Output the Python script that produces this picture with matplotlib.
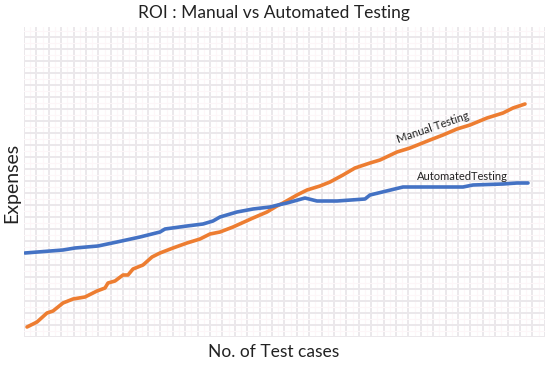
import matplotlib
matplotlib.use("Agg")
from matplotlib import pyplot as plt
from matplotlib.ticker import MultipleLocator

plt.rcParams['font.family'] = ['Lato', 'DejaVu Sans']

# automated testing expenses
auto_x = [1, 39, 51, 74, 93, 116, 136, 141, 163, 179, 189, 196, 213, 229, 246, 254,
          263, 281, 293, 313, 341, 346, 379, 413, 439, 449, 479, 493, 504]
auto_y = [84, 87, 89, 91, 95, 100, 105, 108, 111, 113, 116, 120, 125, 128, 130, 132,
          134, 139, 136, 136, 138, 142, 150, 150, 150, 152, 153, 154, 154]

# manual testing expenses
man_x = [3, 13, 23, 29, 39, 49, 61, 73, 81, 84, 91, 99, 104, 109, 119, 128, 136, 149,
         163, 176, 186, 196, 209, 229, 243, 253, 259, 273, 283, 296, 306, 319, 331,
         346, 356, 373, 386, 406, 419, 433, 446, 463, 479, 489, 501]
man_y = [10, 15, 24, 26, 34, 38, 40, 46, 49, 54, 56, 62, 62, 68, 72, 80, 84, 89, 94,
         98, 103, 105, 110, 119, 125, 131, 134, 142, 147, 151, 155, 162, 169, 174,
         177, 185, 189, 197, 202, 208, 212, 219, 224, 229, 233]

fig = plt.figure(figsize=(5.47, 3.66), dpi=100)
ax = fig.add_axes([24/547, 29/366, 521/547, 310/366])

ax.plot(man_x, man_y, c='#ED7D31', lw=2.6, solid_capstyle='round', zorder=3)
ax.plot(auto_x, auto_y, c='#4472C4', lw=2.6, solid_capstyle='round', zorder=3)

ax.set_xlim(0, 521)
ax.set_ylim(0, 310)

# graph paper style grid, very faint
ax.xaxis.set_major_locator(MultipleLocator(12.4))
ax.yaxis.set_major_locator(MultipleLocator(12))
ax.xaxis.set_minor_locator(MultipleLocator(6.2))
ax.yaxis.set_minor_locator(MultipleLocator(6))
ax.grid(which='major', color='#ebe8eb', lw=1.4)
ax.grid(which='minor', color='#fdf6f8', lw=0.8)
ax.set_axisbelow(True)
ax.tick_params(which='both', length=0, labelbottom=False, labelleft=False)
for s in ax.spines.values():
    s.set_visible(False)

ax.text(409, 210, 'Manual Testing', rotation=19, fontsize=8, ha='center', va='center',
        color='#222222')
ax.text(438, 161, 'AutomatedTesting', fontsize=8, ha='center', va='center',
        color='#222222')

fig.text(0.5, 0.965, 'ROI : Manual vs Automated Testing', ha='center', va='center',
         fontsize=12.5, color='#222222')
fig.text(0.5, 0.038, 'No. of Test cases', ha='center', va='center', fontsize=12.5,
         color='#222222')
fig.text(0.022, 0.5, 'Expenses', ha='center', va='center', rotation=90, fontsize=14,
         color='#222222')

fig.savefig('out.png', dpi=100)
